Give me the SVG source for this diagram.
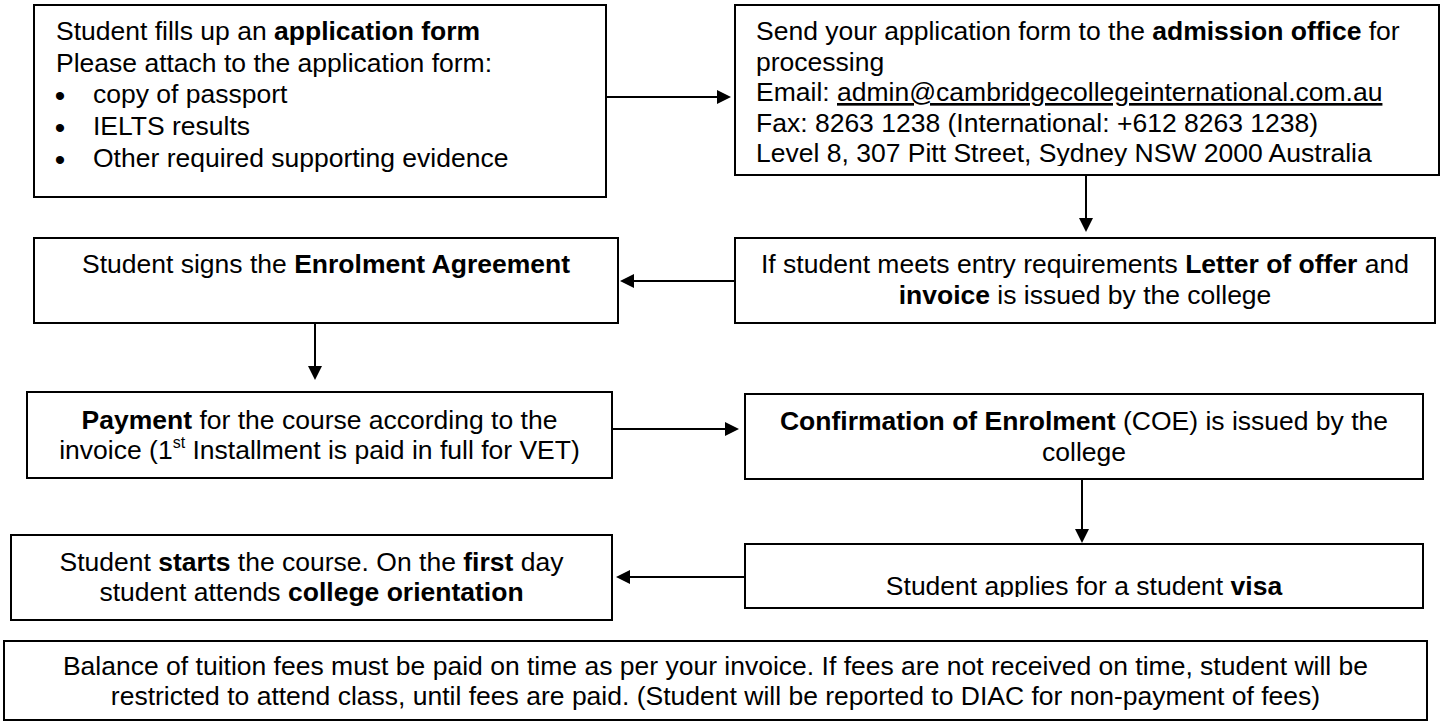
<svg xmlns="http://www.w3.org/2000/svg" width="1442" height="724" viewBox="0 0 1442 724">
<style>
.box{fill:#fff;stroke:#000;stroke-width:2}
.t{font-family:"Liberation Sans",Arial,sans-serif;font-size:26.5px;fill:#000}
.c{text-anchor:middle}
.b{font-weight:bold}
.u{text-decoration:underline}
.bul{font-family:"Liberation Sans",Arial,sans-serif;font-size:30px;fill:#000;text-anchor:middle}
.conn{stroke:#000;stroke-width:2;fill:none}
</style>
<defs>
<marker id="ah" markerUnits="userSpaceOnUse" markerWidth="16" markerHeight="16" refX="0" refY="7" orient="auto">
<path d="M0,0 L14,7 L0,14 z" fill="#000"/>
</marker>
<clipPath id="clip2"><rect x="735" y="5" width="704" height="161"/></clipPath>
<clipPath id="clipVisa"><rect x="745" y="544" width="678" height="53"/></clipPath>
</defs>
<rect width="1442" height="724" fill="#fff"/>

<g id="connectors">
<path class="conn" d="M606,97 H717" marker-end="url(#ah)"/>
<path class="conn" d="M1086,175 V218" marker-end="url(#ah)"/>
<path class="conn" d="M735,281 H634" marker-end="url(#ah)"/>
<path class="conn" d="M315,323 V366" marker-end="url(#ah)"/>
<path class="conn" d="M612,429 H725" marker-end="url(#ah)"/>
<path class="conn" d="M1082,479 V529" marker-end="url(#ah)"/>
<path class="conn" d="M745,577 H630" marker-end="url(#ah)"/>
</g>

<g id="node-application">
<rect class="box" x="34" y="5" width="572" height="192"/>
<text class="t" x="56" y="40">Student fills up an <tspan class="b">application form</tspan></text>
<text class="t" x="56" y="71.5">Please attach to the application form:</text>
<text class="bul" x="60" y="106">•</text>
<text class="t" x="93" y="103">copy of passport</text>
<text class="bul" x="60" y="138">•</text>
<text class="t" x="93" y="135">IELTS results</text>
<text class="bul" x="60" y="169.5">•</text>
<text class="t" x="93" y="166.5">Other required supporting evidence</text>
</g>

<g id="node-send">
<rect class="box" x="735" y="5" width="704" height="170"/>
<g clip-path="url(#clip2)">
<text class="t" x="756" y="40">Send your application form to the <tspan class="b">admission office</tspan> for</text>
<text class="t" x="756" y="70.5">processing</text>
<text class="t" x="756" y="101">Email: <tspan class="u">admin@cambridgecollegeinternational.com.au</tspan></text>
<text class="t" x="756" y="131.5">Fax: 8263 1238 (International: +612 8263 1238)</text>
<text class="t" x="756" y="162">Level 8, 307 Pitt Street, Sydney NSW 2000 Australia</text>
</g>
</g>

<g id="node-offer">
<rect class="box" x="735" y="238" width="700" height="85"/>
<text class="t c" x="1085" y="273">If student meets entry requirements <tspan class="b">Letter of offer</tspan> and</text>
<text class="t c" x="1085" y="303.5"><tspan class="b">invoice</tspan> is issued by the college</text>
</g>

<g id="node-sign">
<rect class="box" x="34" y="238" width="584" height="85"/>
<text class="t c" x="326" y="273">Student signs the <tspan class="b">Enrolment Agreement</tspan></text>
</g>

<g id="node-payment">
<rect class="box" x="27" y="392" width="585" height="86"/>
<text class="t c" x="319.5" y="429"><tspan class="b">Payment</tspan> for the course according to the</text>
<text class="t c" x="319.5" y="459">invoice (1<tspan font-size="16" dy="-11">st</tspan><tspan dy="11"> Installment is paid in full for VET)</tspan></text>
</g>

<g id="node-coe">
<rect class="box" x="745" y="394" width="678" height="85"/>
<text class="t c" x="1084" y="430"><tspan class="b">Confirmation of Enrolment</tspan> (COE) is issued by the</text>
<text class="t c" x="1084" y="460.5">college</text>
</g>

<g id="node-visa">
<rect class="box" x="745" y="544" width="678" height="64"/>
<text class="t c" x="1084" y="595" clip-path="url(#clipVisa)">Student applies for a student <tspan class="b">visa</tspan></text>
</g>

<g id="node-start">
<rect class="box" x="11" y="535" width="601" height="85"/>
<text class="t c" x="311.5" y="571">Student <tspan class="b">starts</tspan> the course. On the <tspan class="b">first</tspan> day</text>
<text class="t c" x="311.5" y="601">student attends <tspan class="b">college orientation</tspan></text>
</g>

<g id="node-balance">
<rect class="box" x="4" y="641" width="1423" height="79"/>
<text class="t c" x="715.5" y="674.5">Balance of tuition fees must be paid on time as per your invoice. If fees are not received on time, student will be</text>
<text class="t c" x="715.5" y="704.5">restricted to attend class, until fees are paid. (Student will be reported to DIAC for non-payment of fees)</text>
</g>
</svg>
